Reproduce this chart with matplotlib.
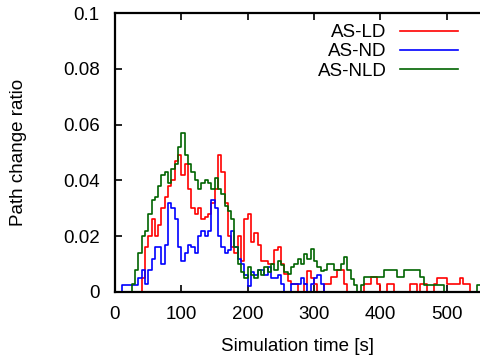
import numpy as np
import matplotlib
matplotlib.use("Agg")
import matplotlib.pyplot as plt

plt.rcParams['font.family'] = ['Liberation Sans', 'DejaVu Sans']

# time axis (s), step 5 s
time_s = list(range(0, 555, 5))

# values in units of 1e-3 (path change ratio x 1000)
ld = [0, 0, 0, 0, 0, 0, 0, 0, 5, 16, 20, 26, 20, 24, 30, 34, 38, 40, 47, 49,
      42, 46, 37, 30, 28, 30, 26, 27, 28, 32, 37, 49, 43, 32, 20, 16, 14, 20, 11, 26,
      28, 18, 21, 17, 11, 11, 10, 10, 15, 16, 10, 6.5, 4, 3, 3, 0, 0, 3, 7.7, 5,
      3, 0, 0, 3, 3, 5.4, 5.4, 7.8, 7.8, 3, 0, 0, 0, 0, 0, 3, 3, 5.4, 5.4, 3,
      0, 0, 3, 3, 0, 0, 0, 0, 0, 3, 3, 0, 3, 3, 0, 0, 3, 5, 5, 5,
      3, 3, 3, 3, 5, 3, 3, 0, 0, 0, 0]
nd = [0, 0, 2.6, 2.6, 2.6, 2.6, 2.6, 5, 8, 3, 8, 12, 16, 16, 10, 17, 32, 30, 26, 16,
      11, 14, 17, 16, 14, 20, 22, 20, 22, 33, 30, 20, 16, 14, 15, 22, 16, 12, 10, 6,
      2, 7, 6, 8, 8, 6, 9, 5, 5, 6, 3, 0, 0, 3, 3, 3, 5, 3, 0, 3,
      5, 6, 3, 0, 0, 0, 0, 0, 0, 0, 0, 0, 0, 0, 0, 0, 0, 0, 0, 0,
      0, 0, 0, 0, 0, 0, 0, 0, 0, 0, 0, 0, 0, 0, 0, 0, 0, 0, 0, 0,
      0, 0, 0, 0, 0, 0, 0, 0, 0, 0, 0]
nld = [0, 0, 0, 0, 0, 3, 8, 14, 20, 22, 28, 33, 34, 38, 42, 43, 39, 44, 46, 52,
       57, 49, 46, 43, 40, 37, 39, 40, 39, 37, 41, 37, 35, 31, 29, 26, 16, 10, 7, 5,
       9, 6, 5, 8, 6, 9, 7, 10, 8, 11, 9.5, 7, 6.5, 9, 10, 12, 10, 13.7, 12, 15.5,
       11, 9, 7.7, 8, 10, 10, 7.8, 7.8, 10, 12.5, 7.8, 4.8, 2.4, 0, 2.4, 5.4, 5.4, 5.4, 5.4, 5.4,
       5.4, 7.8, 7.8, 7.8, 7.8, 5.4, 5.4, 7.8, 7.8, 7.8, 7.8, 7.8, 5.4, 2.4, 2.4, 2.4, 2.4, 2.4, 2.4, 0,
       0, 0, 0, 0, 0, 0, 0, 0, 0, 2.4, 2.4]

series_names = ["AS-LD", "AS-ND", "AS-NLD"]
series_colors = ["#ff0000", "#0000ff", "#006400"]

x_ticks = [0, 100, 200, 300, 400, 500]
y_ticks = [0, 0.02, 0.04, 0.06, 0.08, 0.1]
y_tick_labels = ["0", "0.02", "0.04", "0.06", "0.08", "0.1"]

W, H = 480, 362
fig = plt.figure(figsize=(W / 100, H / 100), dpi=100)
ax = fig.add_axes([115 / W, (H - 292) / H, (480 - 115) / W, (292 - 13) / H])

t = np.array(time_s)
for vals, name, col in zip([ld, nd, nld], series_names, series_colors):
    ax.step(t, np.array(vals) / 1000.0, where='post', color=col, lw=1.2, label=name)

ax.set_xlim(0, 550)
ax.set_ylim(0, 0.1)
ax.set_xticks(x_ticks)
ax.set_yticks(y_ticks)
ax.set_yticklabels(y_tick_labels)
ax.spines['right'].set_visible(False)
for s in ['left', 'bottom', 'top']:
    ax.spines[s].set_linewidth(1.6)
ax.tick_params(direction='in', length=5, width=1.2, labelsize=13.5, pad=10,
               top=True, right=False)
ax.tick_params(axis='y', pad=11)
ax.set_xlabel("Simulation time [s]", fontsize=13.5, labelpad=11)
ax.set_ylabel("Path change ratio", fontsize=13.5, labelpad=26)

leg = ax.legend(loc='upper right', bbox_to_anchor=((458 - 115) / 365, (292 - 24) / 279),
                frameon=False, markerfirst=False, borderpad=0, borderaxespad=0,
                handlelength=3.1, handletextpad=0.7, labelspacing=0.12, fontsize=13.5)
for line in leg.get_lines():
    line.set_linewidth(1.2)

fig.savefig("out.png", dpi=100)
